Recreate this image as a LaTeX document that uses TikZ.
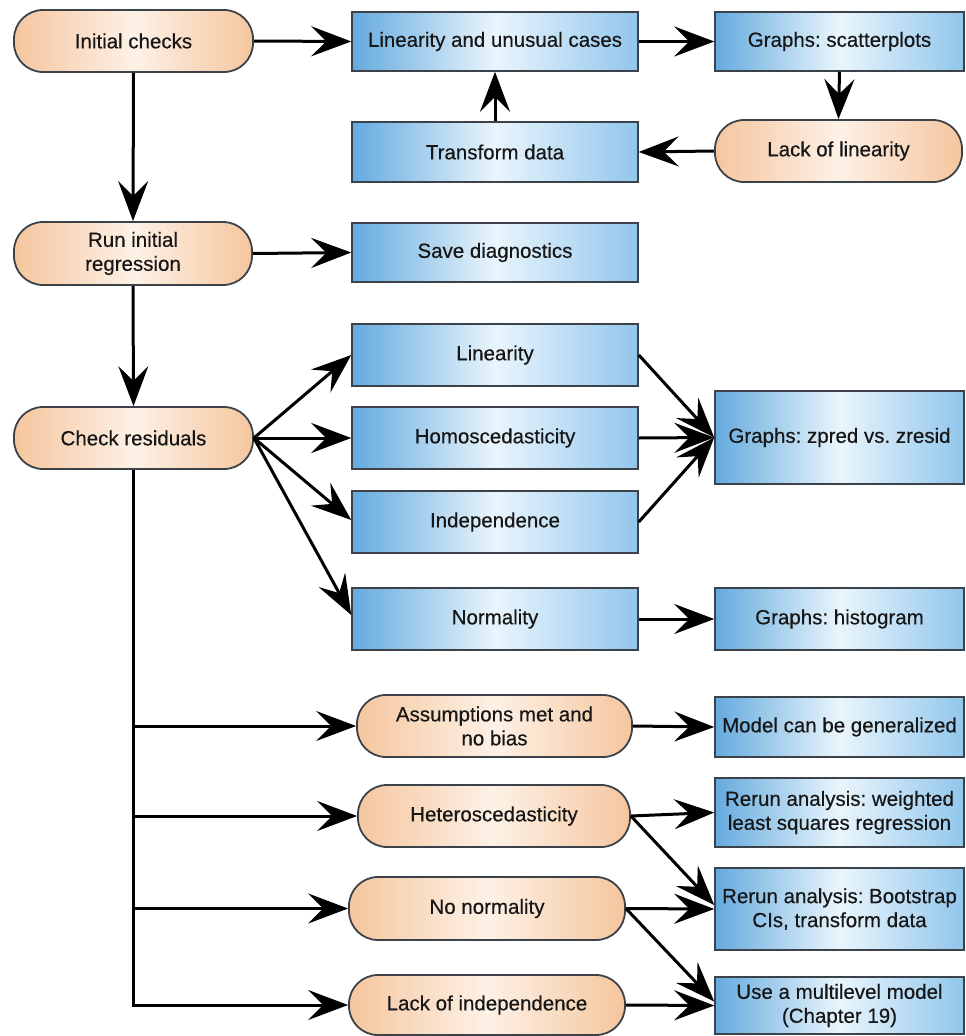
\documentclass[tikz,border=0pt]{standalone}
\usepackage{fontspec}
\setmainfont{Liberation Sans}[BoldFont=Liberation Sans, BoldFeatures={FakeBold=0.35}]
\usetikzlibrary{arrows.meta,calc}
\definecolor{bL}{RGB}{100,170,222}
\definecolor{bM}{RGB}{234,245,252}
\definecolor{bR}{RGB}{145,198,236}
\definecolor{oE}{RGB}{245,198,158}
\definecolor{oM}{RGB}{253,241,230}
\definecolor{bd}{RGB}{60,66,74}
\definecolor{tx}{RGB}{22,22,22}
\frenchspacing
\begin{document}
\begin{tikzpicture}[x=1pt,y=-1pt,
  wh/.style 2 args={minimum width=#1pt, minimum height=#2pt},
  lbl/.style={text=tx, font=\fontsize{20.5}{24}\selectfont\bfseries\frenchspacing, align=center, inner sep=0pt},
  blubox/.style={lbl, draw=bd, line width=1.5pt, left color=bL, right color=bR, middle color=bM},
  stad/.style={lbl, draw=bd, line width=1.8pt, rounded corners=29pt, left color=oE, right color=oE, middle color=oM},
  tip/.style={-{Stealth[length=40pt,width=30pt,inset=15pt]}},
  conn/.style={line width=3pt, draw=black, tip},
  trunk/.style={line width=3pt, draw=black}
]
\useasboundingbox (0,0) rectangle (966,1036);

% top section
\node[stad, wh={239}{62}] (init) at (133.5,41) {Initial checks};
\node[blubox, wh={286}{59}] (lin) at (495,41.5) {Linearity and unusual cases};
\node[blubox, wh={249}{59}] (scat) at (839.5,41.5) {Graphs: scatterplots};
\node[stad, wh={247}{62}] (lack) at (838.5,151) {Lack of linearity};
\node[blubox, wh={286}{60}] (trans) at (495,152) {Transform data};

\node[stad, wh={238}{63}] (run) at (133,253.5) {Run initial\\regression};
\node[blubox, wh={286}{59}] (save) at (495,252.5) {Save diagnostics};

% residual checks
\node[stad, wh={239}{62}] (check) at (133.5,438) {Check residuals};
\node[blubox, wh={286}{62}] (l1) at (495,355) {Linearity};
\node[blubox, wh={286}{62}] (homo) at (495,438) {Homoscedasticity};
\node[blubox, wh={286}{62}] (indep) at (495,522) {Independence};
\node[blubox, wh={286}{62}] (norm) at (495,619) {Normality};
\node[blubox, wh={249}{93}] (zpred) at (839.5,437.5) {Graphs: zpred vs. zresid};
\node[blubox, wh={249}{62}] (hist) at (839.5,619) {Graphs: histogram};

% outcomes
\node[stad, wh={275}{62}] (assum) at (494.5,726) {Assumptions met and\\no bias};
\node[stad, wh={272}{62}] (hetero) at (494,816) {Heteroscedasticity};
\node[stad, wh={276}{63}] (nonorm) at (487,908.5) {No normality};
\node[stad, wh={276}{60}] (lackind) at (487,1005) {Lack of independence};

\node[blubox, wh={249}{60}] (model) at (839.5,727) {Model can be generalized};
\node[blubox, wh={249}{69}] (wls) at (839.5,812.5) {Rerun analysis: weighted\\least squares regression};
\node[blubox, wh={249}{82}] (boot) at (839.5,909) {Rerun analysis: Bootstrap\\CIs, transform data};
\node[blubox, wh={249}{57}] (multi) at (839.5,1005.5) {Use a multilevel model\\(Chapter 19)};

% connectors: top
\draw[conn] (init.east) -- (lin.west);
\draw[conn] (lin.east) -- (scat.west);
\draw[conn] (scat.south) -- (lack.north);
\draw[conn] (lack.west) -- (trans.east);
\draw[conn] (trans.north) -- (lin.south);
\draw[conn] (init.south) -- (run.north);
\draw[conn] (run.east) -- (save.west);
\draw[conn] (run.south) -- (check.north);

% connectors: residuals
\draw[conn] (check.east) -- (l1.west);
\draw[conn] (check.east) -- (homo.west);
\draw[conn] (check.east) -- ($(indep.west)+(0,-2)$);
\draw[conn] (check.east) -- ($(norm.west)+(0,-4)$);
\draw[conn] (l1.east) -- (zpred.west);
\draw[conn] (homo.east) -- (zpred.west);
\draw[conn] (indep.east) -- (zpred.west);
\draw[conn] (norm.east) -- (hist.west);

% trunk to outcomes
\draw[trunk, tip] (check.south) |- (lackind.west);
\draw[conn] (check.south |- assum.west) -- (assum.west);
\draw[conn] (check.south |- hetero.west) -- (hetero.west);
\draw[conn] (check.south |- nonorm.west) -- (nonorm.west);

\draw[conn] (assum.east) -- (model.west);
\draw[conn] (hetero.east) -- (wls.west);
\draw[conn] (hetero.east) -- ($(boot.west)+(0,-4)$);
\draw[conn] (nonorm.east) -- (boot.west);
\draw[conn] (nonorm.east) -- ($(multi.west)+(0,-4)$);
\draw[conn] (lackind.east) -- (multi.west);
\end{tikzpicture}
\end{document}
